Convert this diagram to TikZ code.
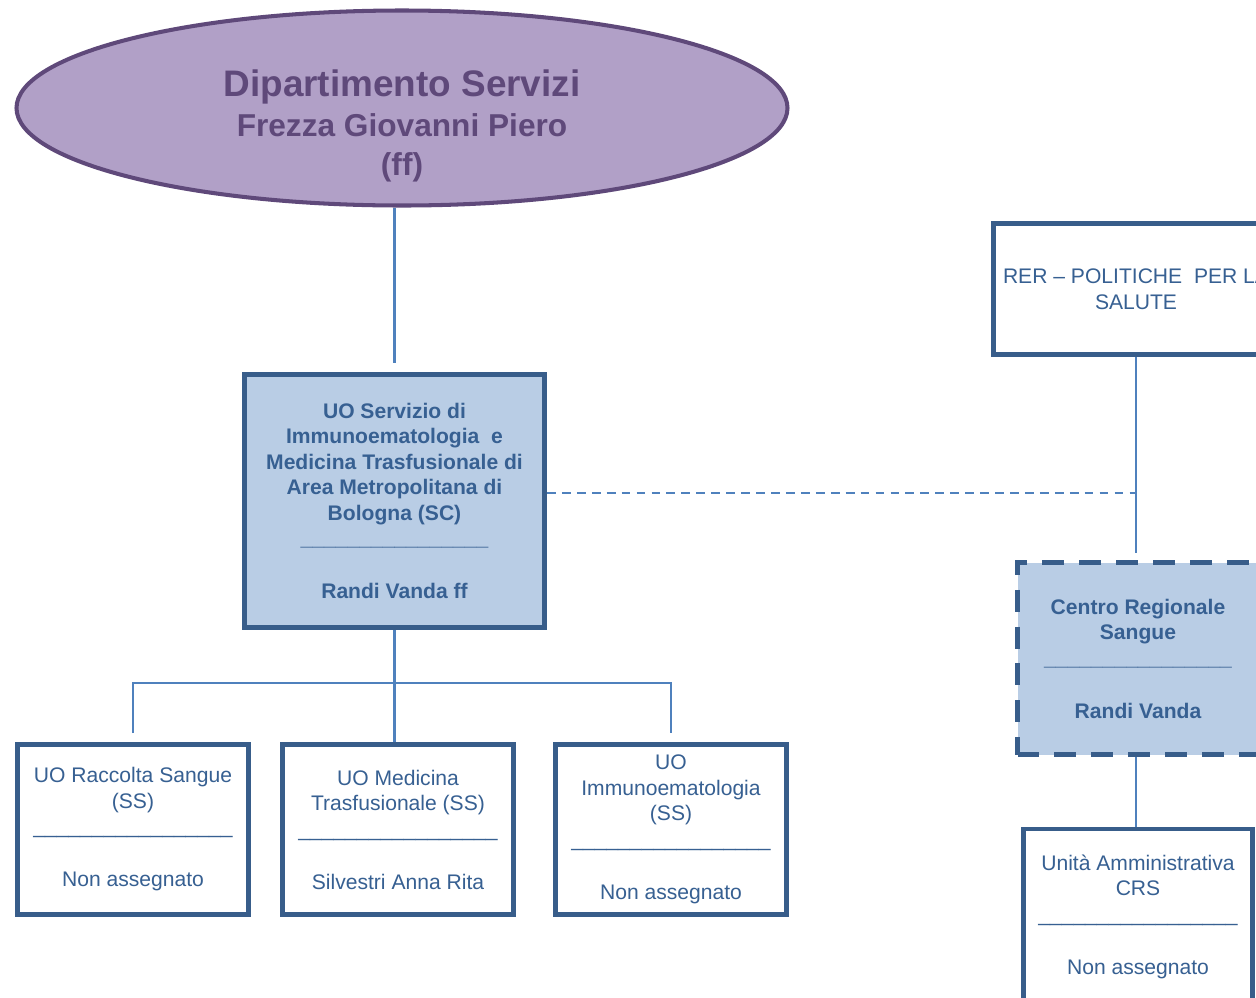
\documentclass[tikz,border=0pt]{standalone}
\usepackage{fontspec}
\setmainfont{Liberation Sans}
\usetikzlibrary{shapes.geometric, positioning}

\definecolor{deptfill}{RGB}{177,160,199}
\definecolor{deptline}{RGB}{95,73,122}
\definecolor{unitfill}{RGB}{185,205,229}
\definecolor{unitline}{RGB}{56,93,138}
\definecolor{unittext}{RGB}{55,96,146}
\definecolor{linkline}{RGB}{79,129,189}

\newcommand{\namerule}{\_\_\_\_\_\_\_\_\_\_\_\_\_\_\_\_}

\begin{document}
\begin{tikzpicture}[
    dept/.style = {
        ellipse, draw=deptline, fill=deptfill, line width=2.3pt,
        minimum width=15.42cm, minimum height=3.9cm
    },
    head/.style = {
        draw=unitline, fill=unitfill, line width=2.8pt,
        font=\fontsize{12}{14.5}\selectfont\bfseries,
        text=unittext, align=center
    },
    sub/.style = {
        draw=unitline, fill=white, line width=2.8pt,
        font=\fontsize{12}{14.5}\selectfont,
        text=unittext, align=center,
        minimum width=4.62cm, minimum height=3.4cm
    },
    link/.style = {linkline, line width=1.4pt},
]
\clip (0,0) rectangle (25.12,-19.94);

%% ── Dipartimento ─────────────────────────────────────────────────────
\node[dept] (dept) at (8.04,-2.16) {};
\node[font=\fontsize{18}{22.5}\selectfont\bfseries, text=deptline, align=center]
  (depttitle) at (8.04,-2.52)
  {{\fontsize{21}{24}\selectfont Dipartimento Servizi}\\
   Frezza Giovanni Piero\\
   (ff)};

%% ── UO (SC) ──────────────────────────────────────────────────────────
\node[head, minimum width=6.0cm, minimum height=5.06cm]
  (smt) at (7.89,-10.02)
  {UO Servizio di\\
   Immunoematologia\ \ e\\
   Medicina Trasfusionale di\\
   Area Metropolitana di\\
   Bologna (SC)\\
   \namerule\\[0.55cm]
   Randi Vanda ff};

%% Strutture semplici (y = -16.59)
\node[sub] (rac) at (2.66,-16.59)
  {UO Raccolta Sangue\\(SS)\\\namerule\_\\[0.55cm]Non assegnato};
\node[sub] (mtr) at (7.96,-16.59)
  {UO Medicina\\Trasfusionale (SS)\\\namerule\_\\[0.55cm]Silvestri Anna Rita};
\node[sub] (imm) at (13.42,-16.59)
  {UO\\Immunoematologia\\(SS)\\\namerule\_\\[0.55cm]Non assegnato};

%% ── Regione ──────────────────────────────────────────────────────────
\node[sub, minimum width=5.7cm, minimum height=2.62cm]
  (rer) at (22.72,-5.78)
  {RER -- POLITICHE\ \ PER LA\\SALUTE};

\node[head, dash pattern=on 12.5pt off 8.5pt,
      minimum width=4.82cm, minimum height=3.84cm]
  (crs) at (22.76,-13.17)
  {Centro Regionale\\Sangue\\\namerule\\[0.55cm]Randi Vanda};

\node[sub, minimum width=4.58cm, minimum height=3.5cm]
  (crsadm) at (22.76,-18.33)
  {Unit\`a Amministrativa\\CRS\\\namerule\_\\[0.55cm]Non assegnato};

%% ── Collegamenti ─────────────────────────────────────────────────────
\draw[link] (dept.south -| smt.north) -- ([yshift=0.18cm]smt.north);

\coordinate (fork) at (smt.south |- 0,-13.66);
\draw[link] (smt.south) -- (fork);
\draw[link] ([yshift=0.18cm]rac.north) |- (fork) -| ([yshift=0.18cm]imm.north);
\draw[link] (fork) -- (fork |- mtr.north);

\draw[link] (rer.south) -- ([yshift=0.14cm]rer.south |- crs.north);
\coordinate (crsjoin) at (rer.south |- 0,-9.86);
\draw[link, dash pattern=on 5pt off 3.5pt] (smt.east |- crsjoin) -- (crsjoin);
\draw[link] (crs.south -| rer.south) -- (crsadm.north -| rer.south);

\end{tikzpicture}
\end{document}
